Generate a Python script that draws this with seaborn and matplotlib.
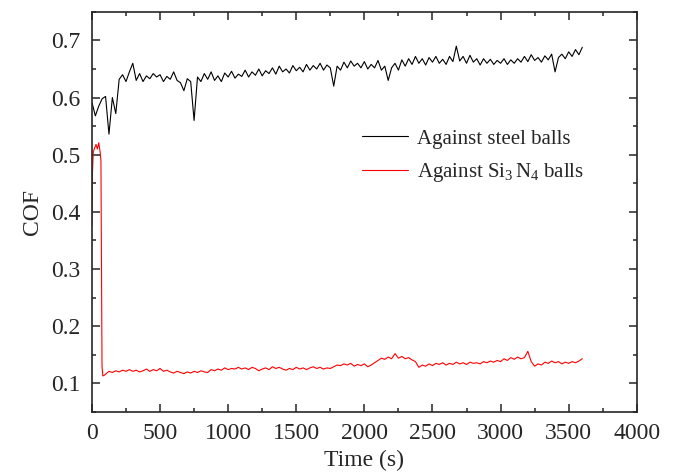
import numpy as np
import pandas as pd
import matplotlib
matplotlib.use("Agg")
import matplotlib.pyplot as plt
import seaborn as sns

# steel ball run, sampled every 25 s from 0 to 3600 s
steel_time = np.arange(0, 3625, 25)
steel_cof = [
    0.592, 0.568, 0.585, 0.598, 0.602, 0.536, 0.600, 0.572, 0.632, 0.640,
    0.628, 0.645, 0.660, 0.630, 0.642, 0.628, 0.638, 0.633, 0.642, 0.636,
    0.640, 0.628, 0.637, 0.632, 0.645, 0.630, 0.626, 0.612, 0.633, 0.628,
    0.560, 0.636, 0.628, 0.642, 0.632, 0.645, 0.630, 0.638, 0.628, 0.643,
    0.636, 0.646, 0.634, 0.641, 0.637, 0.648, 0.636, 0.645, 0.639, 0.650,
    0.638, 0.647, 0.642, 0.652, 0.641, 0.655, 0.645, 0.650, 0.643, 0.656,
    0.647, 0.653, 0.645, 0.658, 0.648, 0.656, 0.650, 0.660, 0.648, 0.657,
    0.652, 0.620, 0.655, 0.648, 0.662, 0.652, 0.664, 0.655, 0.660, 0.652,
    0.663, 0.650, 0.658, 0.652, 0.665, 0.648, 0.655, 0.630, 0.652, 0.660,
    0.648, 0.666, 0.655, 0.668, 0.658, 0.672, 0.660, 0.668, 0.657, 0.670,
    0.662, 0.672, 0.660, 0.667, 0.658, 0.672, 0.663, 0.690, 0.664, 0.672,
    0.660, 0.674, 0.662, 0.668, 0.657, 0.668, 0.660, 0.667, 0.658, 0.665,
    0.660, 0.668, 0.658, 0.666, 0.660, 0.668, 0.662, 0.672, 0.663, 0.675,
    0.665, 0.670, 0.662, 0.673, 0.666, 0.676, 0.645, 0.670, 0.676, 0.668,
    0.680, 0.672, 0.684, 0.675, 0.688,
]

# Si3N4 ball run: dense start (run-in), then every 25 s from 100 s
si3n4_time_start = [0, 4, 10, 20, 30, 40, 50, 60, 66, 74, 80, 90]
si3n4_cof_start = [0.376, 0.470, 0.505, 0.512, 0.518, 0.510, 0.521, 0.505, 0.490, 0.130, 0.113, 0.114]
si3n4_time_rest = np.arange(100, 3625, 25)
si3n4_cof_rest = [
    0.116, 0.121, 0.119, 0.122, 0.120, 0.123, 0.121, 0.124, 0.121, 0.123,
    0.120, 0.122, 0.125, 0.121, 0.124, 0.122, 0.126, 0.121, 0.123, 0.120,
    0.118, 0.121, 0.119, 0.117, 0.120, 0.118, 0.121, 0.119, 0.122, 0.120,
    0.119, 0.124, 0.122, 0.125, 0.123, 0.127, 0.124, 0.126, 0.125, 0.128,
    0.125, 0.127, 0.124, 0.128, 0.126, 0.122, 0.125, 0.127, 0.124, 0.129,
    0.126, 0.128, 0.125, 0.123, 0.126, 0.124, 0.128, 0.125, 0.127, 0.124,
    0.127, 0.129, 0.126, 0.128, 0.125, 0.127, 0.126, 0.129, 0.132, 0.131,
    0.134, 0.132, 0.135, 0.130, 0.133, 0.131, 0.134, 0.129, 0.132, 0.136,
    0.140, 0.144, 0.142, 0.146, 0.143, 0.152, 0.144, 0.147, 0.143, 0.145,
    0.141, 0.138, 0.128, 0.132, 0.130, 0.134, 0.131, 0.135, 0.133, 0.136,
    0.132, 0.135, 0.133, 0.137, 0.134, 0.136, 0.133, 0.137, 0.135, 0.136,
    0.134, 0.138, 0.136, 0.139, 0.137, 0.140, 0.138, 0.143, 0.140, 0.145,
    0.142, 0.146, 0.143, 0.145, 0.156, 0.138, 0.130, 0.134, 0.132, 0.137,
    0.135, 0.139, 0.136, 0.138, 0.134, 0.137, 0.135, 0.138, 0.136, 0.139,
    0.143,
]

labels = ["Against steel balls", r"Against Si$_{\mathrm{3}}\,$N$_{\mathrm{4}}$ balls"]
colors = ["black", "red"]

df = pd.concat([
    pd.DataFrame({"time": steel_time, "cof": steel_cof, "ball": labels[0]}),
    pd.DataFrame({"time": np.concatenate([si3n4_time_start, si3n4_time_rest]),
                  "cof": si3n4_cof_start + si3n4_cof_rest, "ball": labels[1]}),
])

sns.set_style("ticks")
plt.rcParams["font.family"] = ["Liberation Serif", "DejaVu Serif"]
plt.rcParams["mathtext.fontset"] = "custom"
plt.rcParams["mathtext.rm"] = "Liberation Serif"
plt.rcParams["mathtext.it"] = "Liberation Serif:italic"

fig, ax = plt.subplots(figsize=(6.76, 4.74), dpi=100)
fig.subplots_adjust(left=0.136, right=0.942, top=0.975, bottom=0.131)

sns.lineplot(data=df, x="time", y="cof", hue="ball", palette=colors,
             linewidth=0.8, sort=False, estimator=None, ax=ax)

ax.set_xlim(0, 4000)
ax.set_ylim(0.05, 0.75)
ax.set_xticks(np.arange(0, 4001, 500))
ax.set_xticks(np.arange(250, 4000, 500), minor=True)
ax.set_yticks([0.1, 0.2, 0.3, 0.4, 0.5, 0.6, 0.7])
ax.set_yticks(np.arange(0.05, 0.751, 0.1), minor=True)
ax.set_yticklabels(["0.1", "0.2", "0.3", "0.4", "0.5", "0.6", "0.7"])

ax.tick_params(which="both", direction="in", top=True, right=True, width=1.1, labelsize=17)
ax.tick_params(which="major", length=6)
ax.tick_params(which="minor", length=3)
ax.tick_params(axis="y", pad=8)
ax.tick_params(axis="x", pad=8)
for s in ax.spines.values():
    s.set_linewidth(1.2)

ax.set_xlabel("Time (s)", fontsize=17, labelpad=4)
ax.set_ylabel("COF", fontsize=17, labelpad=6)

handles, _ = ax.get_legend_handles_labels()
ax.legend(handles, labels, frameon=False, fontsize=15, loc="center left",
          bbox_to_anchor=(0.48, 0.638), borderaxespad=0, handlelength=2.2,
          handletextpad=0.45, labelspacing=0.6)

plt.savefig("out.png", dpi=100)
